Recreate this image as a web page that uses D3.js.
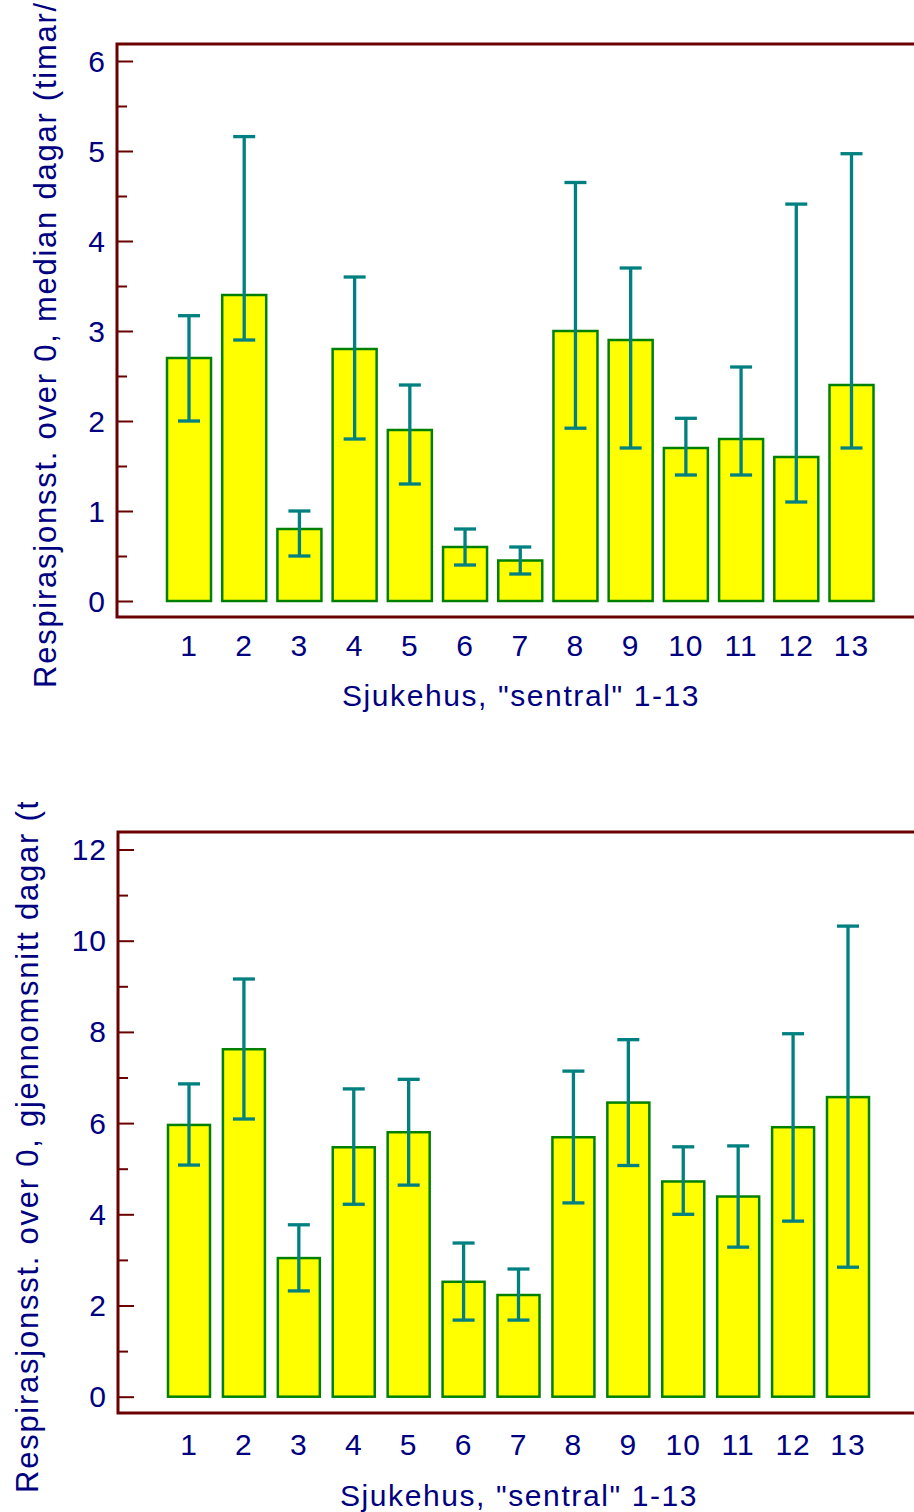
<!DOCTYPE html>
<html>
<head>
<meta charset="utf-8">
<script src="https://cdn.jsdelivr.net/npm/d3@7/dist/d3.min.js"></script>
<style>
  html, body { margin: 0; padding: 0; background: #ffffff; }
  svg { display: block; }
  text { font-family: "Liberation Sans", Arial, sans-serif; fill: #000080; }
</style>
</head>
<body>
<svg id="chart" width="914" height="1512"></svg>
<script>
// Hospitals 1-13
const hospitals = [1, 2, 3, 4, 5, 6, 7, 8, 9, 10, 11, 12, 13];

// Respiratory hours above 0: median days with interval bounds
const medianDays  = [2.7, 3.4, 0.8, 2.8, 1.9, 0.6, 0.45, 3.0, 2.9, 1.7, 1.8, 1.6, 2.4];
const medianLow   = [2.0, 2.9, 0.5, 1.8, 1.3, 0.4, 0.3, 1.92, 1.7, 1.4, 1.4, 1.1, 1.7];
const medianHigh  = [3.17, 5.16, 1.0, 3.6, 2.4, 0.8, 0.6, 4.65, 3.7, 2.03, 2.6, 4.41, 4.97];
const medianTicks = [0, 1, 2, 3, 4, 5, 6];

// Respiratory hours above 0: mean days with interval bounds
const meanDays  = [5.96, 7.62, 3.04, 5.47, 5.80, 2.52, 2.23, 5.69, 6.45, 4.72, 4.39, 5.91, 6.57];
const meanLow   = [5.08, 6.09, 2.32, 4.22, 4.64, 1.68, 1.68, 4.25, 5.07, 4.0, 3.28, 3.85, 2.84];
const meanHigh  = [6.86, 9.16, 3.77, 6.75, 6.96, 3.37, 2.80, 7.14, 7.83, 5.48, 5.50, 7.96, 10.32];
const meanTicks = [0, 2, 4, 6, 8, 10, 12];

const xTitle = 'Sjukehus, "sentral" 1-13';
const medianTitle = "Respirasjonsst. over 0, median dagar (timar/24)";
const meanTitle = "Respirasjonsst. over 0, gjennomsnitt dagar (timar/24)";

const svg = d3.select("#chart");
const AXIS = "#6b0000", BAR_FILL = "#ffff00", BAR_EDGE = "#008000", ERR = "#008080";

function panel(cfg) {
  const clipId = "clip-" + cfg.id;
  svg.append("clipPath").attr("id", clipId)
    .append("rect").attr("x", 0).attr("y", cfg.clipTop).attr("width", 914).attr("height", cfg.clipBottom - cfg.clipTop);
  const g = svg.append("g").attr("clip-path", `url(#${clipId})`);

  const x = d3.scaleLinear().domain([1, 13]).range([cfg.x1, cfg.x13]);
  const y = d3.scaleLinear().domain([0, cfg.yMax]).range([cfg.y0, cfg.yTop]);

  const rows = hospitals.map((h, i) => ({ h, v: cfg.values[i], lo: cfg.low[i], hi: cfg.high[i] }));

  // Bars
  g.selectAll(".bar").data(rows).join("rect")
    .attr("x", d => x(d.h) - cfg.barW / 2)
    .attr("y", d => y(d.v))
    .attr("width", cfg.barW)
    .attr("height", d => y(0) - y(d.v))
    .attr("fill", BAR_FILL).attr("stroke", BAR_EDGE).attr("stroke-width", 2.5);

  // Error bars
  const err = g.selectAll(".err").data(rows).join("g");
  err.append("line")
    .attr("x1", d => x(d.h)).attr("x2", d => x(d.h))
    .attr("y1", d => y(d.lo)).attr("y2", d => y(d.hi))
    .attr("stroke", ERR).attr("stroke-width", 3.3);
  ["lo", "hi"].forEach(k => {
    err.append("line")
      .attr("x1", d => x(d.h) - 11).attr("x2", d => x(d.h) + 11)
      .attr("y1", d => y(d[k])).attr("y2", d => y(d[k]))
      .attr("stroke", ERR).attr("stroke-width", 3.3);
  });

  // Frame: left spine, top and bottom borders
  g.append("path")
    .attr("d", `M960,${cfg.frameTop}H${cfg.left}V${cfg.frameBottom}H960`)
    .attr("fill", "none").attr("stroke", AXIS).attr("stroke-width", 3);

  // Y axis ticks (major with labels, minor between)
  const yAxis = d3.axisRight(y).tickValues(cfg.ticks).tickSize(16).tickFormat("");
  const ya = g.append("g").attr("transform", `translate(${cfg.left},0)`).call(yAxis);
  ya.select(".domain").remove();
  ya.selectAll("line").attr("stroke", AXIS).attr("stroke-width", 2);
  const minor = d3.axisRight(y).tickValues(cfg.minorTicks).tickSize(10).tickFormat("");
  const ym = g.append("g").attr("transform", `translate(${cfg.left},0)`).call(minor);
  ym.select(".domain").remove();
  ym.selectAll("line").attr("stroke", AXIS).attr("stroke-width", 2);

  g.selectAll(".ylab").data(cfg.ticks).join("text")
    .attr("x", cfg.left - 11).attr("y", d => y(d) + 10.5)
    .attr("text-anchor", "end").attr("font-size", 30).attr("letter-spacing", 1)
    .text(d => d);

  // X tick labels
  g.selectAll(".xlab").data(hospitals).join("text")
    .attr("x", d => x(d)).attr("y", cfg.xLabY)
    .attr("text-anchor", "middle").attr("font-size", 30).attr("letter-spacing", 1)
    .text(d => d);

  // Axis titles
  g.append("text")
    .attr("x", cfg.xTitleX).attr("y", cfg.xTitleY)
    .attr("text-anchor", "middle").attr("font-size", 30).attr("letter-spacing", 1.6)
    .text(xTitle);
  g.append("text")
    .attr("transform", `translate(${cfg.yTitleX},${cfg.yTitleStart}) rotate(-90)`)
    .attr("text-anchor", "start").attr("font-size", 31).attr("letter-spacing", 1.75)
    .text(cfg.yTitle);
}

panel({
  id: "median", clipTop: 0, clipBottom: 760,
  values: medianDays, low: medianLow, high: medianHigh,
  ticks: medianTicks, minorTicks: d3.range(0.5, 6, 1), yMax: 6,
  x1: 189, x13: 851.5, barW: 44,
  y0: 601, yTop: 61, left: 117, frameTop: 44, frameBottom: 617,
  xLabY: 656, xTitleX: 521, xTitleY: 706,
  yTitleX: 56, yTitleStart: 688, yTitle: medianTitle
});

panel({
  id: "mean", clipTop: 802, clipBottom: 1512,
  values: meanDays, low: meanLow, high: meanHigh,
  ticks: meanTicks, minorTicks: d3.range(1, 12, 2), yMax: 12,
  x1: 189, x13: 848, barW: 42,
  y0: 1396.7, yTop: 849.5, left: 118, frameTop: 832, frameBottom: 1413,
  xLabY: 1455, xTitleX: 519, xTitleY: 1506,
  yTitleX: 38, yTitleStart: 1493, yTitle: meanTitle
});
</script>
</body>
</html>
